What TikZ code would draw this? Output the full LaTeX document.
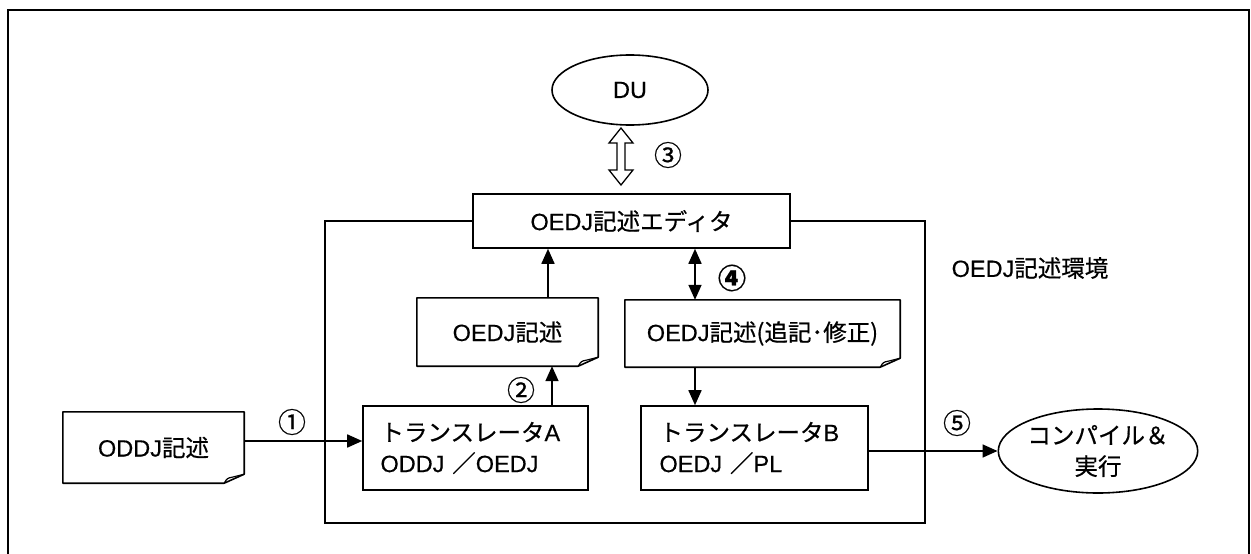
\documentclass[tikz,border=0pt]{standalone}
\usepackage{fontspec}
\newfontfamily\jp[FakeBold=0.6]{Noto Sans CJK JP}
\newfontfamily\lat[FakeBold=0.4]{Liberation Sans}
\newcommand\la[1]{{\lat #1}}
\usetikzlibrary{arrows.meta,shapes.geometric,calc}
\tikzset{
  txt/.style={font=\jp\fontsize{23.5}{31}\selectfont},
  lbl/.style={txt, inner sep=0pt},
  num/.style={font=\jp\fontsize{28}{30}\selectfont, inner sep=0pt},
  boxnode/.style={draw, line width=1.6pt, txt, inner sep=0pt},
  docnode/.style={txt, inner sep=0pt},
  ellnode/.style={draw, ellipse, line width=1.6pt, txt, inner sep=0pt, align=center},
  conn/.style={line width=1.7pt, -{Triangle[length=15pt,width=13pt]}},
  conn2/.style={line width=1.7pt, {Triangle[length=15pt,width=13pt]}-{Triangle[length=15pt,width=13pt]}},
  frame/.style={line width=1.6pt},
}
\newcommand\docfold[1]{%
  \draw[line width=1.6pt, line join=round] (#1.north west) -- (#1.north east) -- ([yshift=9pt]#1.south east) -- ([xshift=-20pt]#1.south east) -- (#1.south west) -- cycle;
  \draw[line width=1.2pt] ([xshift=-20pt]#1.south east) .. controls ([xshift=-17pt,yshift=5pt]#1.south east) .. ([xshift=-12pt,yshift=6pt]#1.south east) -- ([yshift=9pt]#1.south east);
}
\begin{document}
\begin{tikzpicture}[x=1pt,y=-1pt]
\useasboundingbox (0,0) rectangle (1251,554);
% outer frame
\draw[frame] (8,554) -- (8,10) -- (1249,10) -- (1249,554);

\node[ellnode, minimum width=156pt, minimum height=70pt] (du) at (630,90) {\la{DU}};
\node[boxnode, minimum width=317pt, minimum height=54pt] (ed) at (631.5,221) {\la{OEDJ}記述エディタ};

% inner frame
\draw[frame] (ed.west) -- (325,221) -- (325,523) -- (925,523) -- (925,221) -- (ed.east);
\node[lbl] (env) at (1030,268) {\la{OEDJ}記述環境};

% hollow double arrow between DU and the editor
\draw[line width=1.3pt, line join=miter]
  (621,128) -- (633,143) -- (625,143) -- (625,170) -- (633,170) -- (621,185)
  -- (609,170) -- (617,170) -- (617,143) -- (609,143) -- cycle;
\node[num] (n3) at (668,155) {③};

% documents
\node[docnode, minimum width=181pt, minimum height=68pt] (d1) at (507.5,332) {\la{OEDJ}記述};
\docfold{d1}
\node[docnode, minimum width=275pt, minimum height=67pt] (d2) at (762.5,333.5) {\la{OEDJ}記述(追記･修正)};
\docfold{d2}
\node[docnode, minimum width=181pt, minimum height=71pt] (d0) at (153.5,447.5) {\la{ODDJ}記述};
\docfold{d0}

% translators
\node[boxnode, minimum width=225pt, minimum height=84pt, align=left, text width=190pt] (ta) at (475.5,448) {トランスレータ\la{A}\\\la{ODDJ} ／\la{OEDJ}};
\node[boxnode, minimum width=227pt, minimum height=84pt, align=left, text width=190pt] (tb) at (754.5,448) {トランスレータ\la{B}\\\la{OEDJ} ／\la{PL}};

\node[ellnode, minimum width=186pt, minimum height=84pt] (cx) at (1098,451) {コンパイル＆\\実行};

% connectors
\draw[conn] (d1.north -| 548,0) -- (ed.south -| 548,0);
\draw[conn] (ta.north -| 552,0) -- (d1.south -| 552,0);
\node[num] (n2) at (521,390) {②};
\draw[conn2] (ed.south -| 695,0) -- (d2.north -| 695,0);
\node[num] (n4) at (732,278) {\textbf{④}};
\draw[conn] (d2.south -| 695,0) -- (tb.north -| 695,0);
\draw[conn] (d0.east |- 0,441) -- (ta.west |- 0,441);
\node[num] (n1) at (292,422) {①};
\draw[conn] (tb.east |- 0,451) -- (cx.west);
\node[num] (n5) at (957,423) {⑤};
\end{tikzpicture}
\end{document}
